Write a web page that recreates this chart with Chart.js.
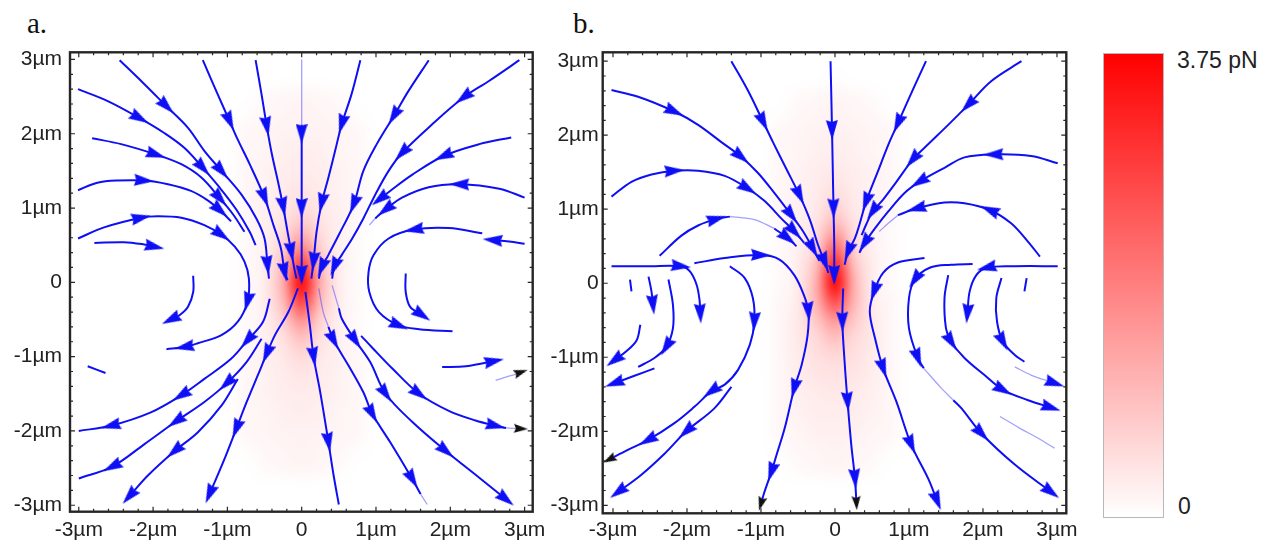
<!DOCTYPE html>
<html>
<head>
<meta charset="utf-8">
<script src="https://cdn.jsdelivr.net/npm/chart.js@4.4.1/dist/chart.umd.min.js"></script>
<style>
  html, body { margin: 0; padding: 0; background: #fff; }
  body { width: 1274px; height: 543px; position: relative; overflow: hidden; }
  .panel { position: absolute; top: 0; height: 543px; }
  .title { position: absolute; top: 9px; font: 29px/29px "Liberation Serif", "Times New Roman", serif; color: #111; }
  #bar { position: absolute; left: 1103px; top: 53px; width: 59px; height: 463px; border: 1px solid #b8b8b8;
         background: linear-gradient(to bottom, #ff0000, #ffffff); }
  .barlabel { position: absolute; font: 23px/23px "Liberation Sans", Arial, sans-serif; color: #222; }
</style>
</head>
<body>
<div class="title" style="left:27px">a.</div>
<div class="title" style="left:573px">b.</div>
<div class="panel" style="left:0;width:560px"><canvas id="chartA"></canvas></div>
<div class="panel" style="left:540px;width:560px"><canvas id="chartB"></canvas></div>
<div id="bar"></div>
<div class="barlabel" style="left:1177px;top:49px">3.75 pN</div>
<div class="barlabel" style="left:1178px;top:495px">0</div>
<script>
// axis ticks (µm)
const tickValues = [-3, -2, -1, 0, 1, 2, 3];

// force magnitude grid, % of 3.75 pN, rows = heatY (top to bottom), cols = heatX
const heatX = [-1, -0.75, -0.5, -0.25, 0, 0.25, 0.5, 0.75, 1];
const heatY = [3, 2.75, 2.5, 2.25, 2, 1.75, 1.5, 1.25, 1, 0.75, 0.5, 0.25, 0,
               -0.25, -0.5, -0.75, -1, -1.25, -1.5, -1.75, -2, -2.25, -2.5, -2.75, -3];
const heatA = [
  [0,0,0,0,0,0,0,0,0],
  [0,0,0,0,0,0,0,0,0],
  [0,0,2,3,4,3,2,0,0],
  [0,1,3,4,5,4,3,1,0],
  [0,3,4,5,5,5,4,3,0],
  [0,3,4,6,7,6,4,3,0],
  [0,3,5,7,8,7,5,3,0],
  [0,3,5,8,10,8,5,3,0],
  [0,3,6,9,14,9,6,3,0],
  [0,2,6,12,24,12,6,2,0],
  [0,2,6,17,44,17,6,2,0],
  [0,2,7,26,76,26,7,2,0],
  [0,2,7,32,100,32,7,2,0],
  [0,2,7,27,78,27,7,2,0],
  [0,2,6,18,46,18,6,2,0],
  [0,2,6,12,25,12,6,2,0],
  [0,3,6,9,15,9,6,3,0],
  [0,3,5,8,10,8,5,3,0],
  [0,3,5,7,8,7,5,3,0],
  [0,3,4,6,7,6,4,3,0],
  [0,3,4,5,5,5,4,3,0],
  [0,1,3,4,5,4,3,1,0],
  [0,0,2,3,4,3,2,0,0],
  [0,0,0,0,0,0,0,0,0],
  [0,0,0,0,0,0,0,0,0]
];
const heatB = [
  [0,0,0,0,0,0,0,0,0],
  [0,0,0,0,1,0,0,0,0],
  [0,0,2,3,4,3,2,0,0],
  [0,1,3,4,5,4,3,1,0],
  [0,3,4,5,6,5,4,3,0],
  [0,3,4,6,7,6,4,3,0],
  [0,3,5,7,9,7,5,3,0],
  [0,3,5,8,12,8,5,3,0],
  [0,3,6,9,18,9,6,3,0],
  [0,2,6,12,32,12,6,2,0],
  [0,2,6,17,58,17,6,2,0],
  [0,2,7,26,86,26,7,2,0],
  [0,2,7,32,100,32,7,2,0],
  [0,3,8,30,72,30,8,3,0],
  [0,3,9,22,42,22,9,3,0],
  [0,3,9,15,25,15,9,3,0],
  [0,3,8,12,15,12,8,3,0],
  [0,3,7,10,11,10,7,3,0],
  [0,3,6,8,9,8,6,3,0],
  [0,3,5,7,7,7,5,3,0],
  [0,3,4,6,6,6,4,3,0],
  [0,1,3,4,5,4,3,1,0],
  [0,0,2,3,4,3,2,0,0],
  [0,0,0,0,0,0,0,0,0],
  [0,0,0,0,0,0,0,0,0]
];

// streamlines [x, y, mark]: mark 1 = arrowhead, 2 = black arrowhead
const linesA = [
  [[0,2.12],[0,2.0,1],[0,1.5],[0,1.0,1],[0,0.45],[0,0.1,1],[0,0.02]],
  [[-1.33,2.99],[-1.13,2.53],[-0.97,2.17,1],[-0.86,1.92],[-0.70,1.59],[-0.50,1.14,1],[-0.38,0.77],[-0.28,0.46],[-0.23,0.14,1],[-0.19,0.03]],
  [[-0.62,2.99],[-0.54,2.53],[-0.47,2.10,1],[-0.40,1.72],[-0.32,1.36],[-0.25,1.02,1],[-0.19,0.68],[-0.14,0.41,1],[-0.09,0.14],[-0.07,0.05]],
  [[0.79,2.99],[0.67,2.53],[0.54,2.13,1],[0.45,1.77],[0.36,1.41],[0.27,1.07,1],[0.20,0.68],[0.16,0.28,1],[0.13,0.05]],
  [[1.71,2.99],[1.44,2.58],[1.24,2.24,1],[1.01,1.86],[0.83,1.50],[0.70,1.05,1],[0.50,0.64],[0.36,0.37],[0.27,0.20,1],[0.23,0.05]],
  [[2.93,2.99],[2.52,2.71],[2.18,2.49,1],[1.76,2.13],[1.35,1.74,1],[1.17,1.50],[0.99,1.18],[0.83,0.86],[0.68,0.59],[0.54,0.37],[0.44,0.21,1],[0.41,0.05]],
  [[2.82,1.95],[2.39,1.86],[1.91,1.70,1],[1.49,1.45],[1.19,1.23],[1.05,1.12,1]],
  [[3.0,1.14],[2.66,1.26],[2.12,1.32,1],[1.71,1.28],[1.35,1.14],[1.13,0.98,1],[0.99,0.86]],
  [[-2.45,2.99],[-2.14,2.69],[-1.82,2.37,1],[-1.53,2.08],[-1.31,1.77],[-1.08,1.50,1],[-0.81,1.18],[-0.61,0.86],[-0.50,0.59],[-0.46,0.23,1],[-0.44,0.05]],
  [[-3.01,2.60],[-2.61,2.44],[-2.18,2.21,1],[-1.85,2.01],[-1.58,1.81],[-1.33,1.54,1],[-1.10,1.27],[-0.88,0.98],[-0.70,0.68],[-0.62,0.50]],
  [[-2.82,1.94],[-2.43,1.86],[-1.96,1.72,1],[-1.62,1.59],[-1.35,1.41],[-1.10,1.13,1],[-0.92,0.91],[-0.77,0.68]],
  [[-3.01,1.24],[-2.75,1.34],[-2.48,1.37],[-2.12,1.37,1],[-1.80,1.32],[-1.49,1.23],[-1.26,1.10],[-1.10,0.97,1],[-0.95,0.82]],
  [[-3.01,0.59],[-2.66,0.74],[-2.16,0.87,1],[-1.94,0.89],[-1.62,0.87],[-1.31,0.77],[-1.08,0.64,1],[-0.90,0.48],[-0.77,0.28],[-0.71,0.05],[-0.73,-0.26,1],[-0.86,-0.53],[-1.08,-0.71],[-1.40,-0.82],[-1.58,-0.87,1],[-1.82,-0.90]],
  [[-2.79,0.53],[-2.39,0.54],[-2.12,0.51],[-1.98,0.48,1]],
  [[-1.46,0.09],[-1.46,-0.13],[-1.53,-0.33],[-1.64,-0.44],[-1.76,-0.50,1]],
  [[-2.88,-1.13],[-2.64,-1.22]],
  [[2.43,0.66],[1.98,0.73],[1.51,0.71,1],[1.17,0.59],[0.97,0.37],[0.90,0.14],[0.91,-0.13],[1.04,-0.40],[1.31,-0.58,1],[1.58,-0.63],[2.03,-0.66]],
  [[3.0,0.52],[2.79,0.55],[2.57,0.57,1]],
  [[1.40,0.12],[1.40,-0.13],[1.46,-0.33],[1.62,-0.44,1]],
  [[1.89,-1.14],[2.21,-1.13],[2.59,-1.06,1],[2.66,-1.04]],
  [[0.05,-0.13],[0.11,-0.58],[0.16,-1.0,1],[0.25,-1.48],[0.36,-2.15,1],[0.43,-2.60],[0.50,-2.99]],
  [[-0.05,-0.08],[-0.18,-0.40],[-0.36,-0.71],[-0.47,-0.96,1],[-0.59,-1.25],[-0.74,-1.61],[-0.88,-1.97,1],[-1.04,-2.38],[-1.24,-2.85,1]],
  [[0.36,-0.60],[0.43,-0.78,1],[0.63,-1.12],[0.83,-1.48],[0.95,-1.77,1],[1.19,-2.15],[1.49,-2.65,1],[1.60,-2.85]],
  [[0.50,-0.35],[0.54,-0.49],[0.72,-0.78,1],[0.92,-1.07],[1.13,-1.50,1],[1.49,-1.88],[1.94,-2.27,1],[2.39,-2.63],[2.75,-2.92,1]],
  [[0.80,-0.72],[0.95,-0.88],[1.22,-1.16],[1.58,-1.50,1],[1.98,-1.73],[2.34,-1.86],[2.61,-1.93,1],[2.75,-1.96]],
  [[-0.43,-0.22],[-0.52,-0.53],[-0.73,-0.78,1],[-0.95,-1.03],[-1.31,-1.30],[-1.62,-1.52,1],[-2.03,-1.75],[-2.57,-1.93,1],[-3.0,-2.0]],
  [[-0.54,-0.76],[-0.74,-1.07],[-1.01,-1.36,1],[-1.31,-1.61],[-1.69,-1.87,1],[-2.12,-2.18],[-2.55,-2.48,1],[-3.0,-2.64]],
  [[-0.86,-1.30],[-1.08,-1.66],[-1.40,-2.02],[-1.71,-2.27,1],[-2.07,-2.60],[-2.32,-2.88,1]]
];
const faintA = [
  [[0,3.0],[0,2.12]],
  [[0.99,0.86],[0.91,0.77]],
  [[2.61,-1.32],[2.80,-1.26],[2.95,-1.21,2]],
  [[0.23,-0.08],[0.29,-0.40],[0.36,-0.60]],
  [[1.60,-2.85],[1.69,-2.99]],
  [[0.41,-0.04],[0.50,-0.35]],
  [[2.75,-1.96],[2.95,-1.97,2]]
];

const linesB = [
  [[-0.06,3.0],[-0.05,2.55],[-0.04,2.07,1],[-0.03,1.55],[-0.02,1.01,1],[-0.01,0.52],[-0.01,0.11,1],[-0.01,0.02]],
  [[-1.40,3.0],[-1.18,2.61],[-0.97,2.18,1],[-0.84,1.91],[-0.66,1.55],[-0.48,1.19,1],[-0.34,0.86],[-0.23,0.52],[-0.14,0.29,1],[-0.09,0.14]],
  [[-3.02,2.61],[-2.66,2.52],[-2.17,2.32,1],[-1.85,2.14],[-1.54,1.91],[-1.27,1.71,1],[-1.04,1.49],[-0.82,1.22],[-0.59,0.92,1],[-0.43,0.70],[-0.30,0.47,1],[-0.21,0.30]],
  [[-3.02,1.17],[-2.75,1.37],[-2.48,1.47],[-2.17,1.52,1],[-1.85,1.52],[-1.49,1.45],[-1.18,1.28,1],[-0.95,1.11],[-0.73,0.88],[-0.55,0.70,1],[-0.42,0.55]],
  [[-2.37,0.37],[-2.08,0.64],[-1.85,0.78],[-1.60,0.87,1],[-1.42,0.90]],
  [[-0.82,0.74],[-0.64,0.61,1],[-0.52,0.50]],
  [[-3.02,0.23],[-2.53,0.23],[-2.08,0.23,1],[-1.96,0.16],[-1.87,-0.02],[-1.83,-0.23],[-1.82,-0.41,1]],
  [[-1.90,0.27],[-1.49,0.34],[-1.0,0.38,1],[-0.75,0.32],[-0.55,0.11],[-0.42,-0.16],[-0.36,-0.38,1],[-0.37,-0.70],[-0.45,-1.10],[-0.55,-1.42,1],[-0.68,-1.96],[-0.79,-2.32],[-0.86,-2.55,1],[-0.96,-2.84],[-1.0,-2.98,2]],
  [[-1.42,0.23],[-1.22,0.07],[-1.11,-0.20],[-1.09,-0.52,1],[-1.15,-0.83],[-1.31,-1.17],[-1.49,-1.37],[-1.67,-1.46,1],[-1.90,-1.67],[-2.17,-1.89],[-2.53,-2.12,1],[-2.80,-2.25],[-3.05,-2.38,2]],
  [[-1.40,-1.40],[-1.63,-1.69],[-2.01,-2.0,1],[-2.30,-2.30],[-2.62,-2.59],[-2.93,-2.82,1]],
  [[-2.77,0.05],[-2.75,-0.11]],
  [[-2.52,0.09],[-2.48,-0.11],[-2.46,-0.29,1]],
  [[-2.25,0.05],[-2.19,-0.29],[-2.19,-0.61],[-2.28,-0.86,1],[-2.44,-1.01],[-2.66,-1.13]],
  [[-2.63,-0.56],[-2.68,-0.77],[-2.82,-0.92],[-2.98,-1.04,1]],
  [[-2.44,-1.15],[-2.71,-1.25],[-2.98,-1.35,1]],
  [[1.23,3.0],[1.05,2.61],[0.85,2.16,1],[0.72,1.87],[0.58,1.51],[0.42,1.10,1],[0.33,0.79],[0.27,0.61],[0.18,0.43,1],[0.13,0.25]],
  [[2.52,3.0],[2.11,2.73],[1.80,2.41,1],[1.53,2.14],[1.23,1.85],[1.05,1.67,1],[0.83,1.37],[0.65,1.13],[0.51,0.97,1],[0.42,0.79],[0.36,0.65]],
  [[3.01,1.62],[2.65,1.72],[2.14,1.74,1],[1.75,1.70],[1.48,1.56],[1.14,1.37,1],[0.94,1.22],[0.72,0.97],[0.54,0.74],[0.40,0.54,1],[0.33,0.41]],
  [[2.77,0.36],[2.61,0.56],[2.38,0.81],[2.09,0.99,1],[1.75,1.08],[1.48,1.09],[1.10,1.01,1],[0.85,0.92]],
  [[3.01,0.23],[2.43,0.23],[2.05,0.21,1],[1.91,0.11],[1.82,-0.11],[1.79,-0.41,1]],
  [[1.86,0.26],[1.57,0.25],[1.28,0.21],[1.08,0.05,1],[1.0,-0.20],[1.0,-0.61],[1.12,-1.01,1],[1.20,-1.15]],
  [[1.60,-1.58],[1.71,-1.69],[1.98,-2.03,1],[2.43,-2.45],[2.92,-2.82,1]],
  [[1.21,0.34],[0.85,0.28],[0.65,0.14],[0.53,-0.11,1],[0.47,-0.38],[0.54,-0.74],[0.65,-1.15,1],[0.83,-1.60],[1.03,-2.18,1],[1.26,-2.64],[1.38,-2.94,1]],
  [[0.11,-0.07],[0.10,-0.52,1],[0.13,-1.06],[0.17,-1.60,1],[0.22,-2.18],[0.27,-2.64,1],[0.29,-2.97,2]],
  [[1.53,0.11],[1.48,-0.20],[1.50,-0.61],[1.57,-0.79,1],[1.75,-1.01],[2.02,-1.24],[2.27,-1.44,1],[2.61,-1.58],[2.92,-1.68,1]],
  [[2.25,0.07],[2.18,-0.20],[2.19,-0.52],[2.27,-0.79,1],[2.43,-0.97],[2.56,-1.06]],
  [[2.59,0.07],[2.56,-0.11]]
];
const faintB = [
  [[-1.42,0.90],[-1.09,0.86],[-0.82,0.74]],
  [[0.85,0.92],[0.72,0.81],[0.60,0.70]],
  [[1.20,-1.15],[1.44,-1.42],[1.60,-1.58]],
  [[2.43,-1.13],[2.65,-1.24],[2.97,-1.35,1]],
  [[2.23,-1.80],[2.50,-1.96],[2.74,-2.09],[2.97,-2.23]]
];

const lineBlue = 'rgb(15,15,245)';
const faintBlue = 'rgba(70,70,255,0.5)';
const labelFont = { family: 'Liberation Sans', size: 21 };

function makeArrow(color, w, h) {
  const c = document.createElement('canvas');
  c.width = w; c.height = h;
  const g = c.getContext('2d');
  g.fillStyle = color;
  g.beginPath();
  g.moveTo(w / 2, 0);
  g.lineTo(w, h);
  g.lineTo(w / 2, h - 2);
  g.lineTo(0, h);
  g.closePath();
  g.fill();
  return c;
}
const arrowBlue = makeArrow(lineBlue, 12, 20);
const arrowBlack = makeArrow('#111', 9, 14);

// heading of the line at point i, degrees clockwise from "up"
function heading(pts, i) {
  const a = pts[Math.max(i - 1, 0)], b = pts[Math.min(i + 1, pts.length - 1)];
  return Math.atan2(b[0] - a[0], b[1] - a[1]) * 180 / Math.PI;
}

function lineDataset(pts, faint) {
  return {
    data: pts.map(p => ({ x: p[0], y: p[1] })),
    showLine: true,
    borderColor: faint ? faintBlue : lineBlue,
    borderWidth: faint ? 1.3 : 2,
    tension: 0.35,
    pointRadius: pts.map(p => p[2] ? 6 : 0),
    pointStyle: pts.map(p => p[2] === 2 ? arrowBlack : arrowBlue),
    pointRotation: pts.map((p, i) => heading(pts, i))
  };
}

// red force map under the streamlines
function heatPlugin(grid) {
  return {
    id: 'heat',
    beforeDatasetsDraw(chart) {
      const { ctx, chartArea: a, scales: { x, y } } = chart;
      const off = document.createElement('canvas');
      off.width = heatX.length; off.height = heatY.length;
      const octx = off.getContext('2d');
      const img = octx.createImageData(off.width, off.height);
      grid.forEach((row, j) => row.forEach((v, i) => {
        const k = (j * off.width + i) * 4;
        img.data[k] = 255; img.data[k + 3] = Math.round(v / 100 * 255);
      }));
      octx.putImageData(img, 0, 0);
      const half = (heatX[1] - heatX[0]) / 2;
      const left = x.getPixelForValue(heatX[0] - half);
      const right = x.getPixelForValue(heatX[heatX.length - 1] + half);
      const top = y.getPixelForValue(heatY[0] + half);
      const bottom = y.getPixelForValue(heatY[heatY.length - 1] - half);
      ctx.save();
      ctx.beginPath(); ctx.rect(a.left, a.top, a.width, a.height); ctx.clip();
      ctx.imageSmoothingEnabled = true;
      ctx.imageSmoothingQuality = 'high';
      ctx.drawImage(off, left, top, right - left, bottom - top);
      ctx.restore();
    }
  };
}

// box frame with small inward ticks every 0.2 µm
const framePlugin = {
  id: 'frame',
  afterDatasetsDraw(chart) {
    const { ctx, chartArea: a, scales: { x, y } } = chart;
    ctx.save();
    ctx.strokeStyle = '#262626';
    ctx.lineWidth = 1.2;
    ctx.beginPath();
    for (let k = -15; k <= 15; k++) {
      const v = k / 5, len = k % 5 === 0 ? 5 : 3;
      const px = x.getPixelForValue(v), py = y.getPixelForValue(v);
      ctx.moveTo(px, a.bottom); ctx.lineTo(px, a.bottom - len);
      ctx.moveTo(px, a.top); ctx.lineTo(px, a.top + len);
      ctx.moveTo(a.left, py); ctx.lineTo(a.left + len, py);
      ctx.moveTo(a.right, py); ctx.lineTo(a.right - len, py);
    }
    ctx.stroke();
    ctx.lineWidth = 2.4;
    ctx.strokeRect(a.left, a.top, a.width, a.height);
    ctx.restore();
  }
};

function makeChart(id, lines, faint, grid, box) {
  const datasets = faint.map(l => lineDataset(l, true)).concat(lines.map(l => lineDataset(l, false)));
  const tickOpts = (pad) => ({
    stepSize: 1, includeBounds: false, padding: pad, font: labelFont, color: '#222',
    callback: v => tickValues.includes(v) ? (v === 0 ? '0' : v + 'µm') : ''
  });
  return new Chart(document.getElementById(id), {
    type: 'scatter',
    data: { datasets },
    options: {
      animation: false, responsive: true, maintainAspectRatio: false, events: [],
      layout: { padding: { top: box.top, right: box.right, left: 0, bottom: 0 } },
      plugins: { legend: { display: false }, tooltip: { enabled: false } },
      scales: {
        x: {
          type: 'linear', min: box.xMin, max: box.xMax,
          grid: { display: false, drawTicks: false }, border: { display: false },
          ticks: tickOpts(box.xPad),
          afterFit: s => { s.height = box.xAxis; }
        },
        y: {
          type: 'linear', min: box.yMin, max: box.yMax,
          grid: { display: false, drawTicks: false }, border: { display: false },
          ticks: tickOpts(box.yPad),
          afterFit: s => { s.width = box.yAxis; }
        }
      }
    },
    plugins: [heatPlugin(grid), framePlugin]
  });
}

makeChart('chartA', linesA, faintA, heatA, {
  top: 52.3, right: 27.3, yAxis: 70, xAxis: 31.3,
  xMin: -3.118, xMax: 3.109, yMin: -3.087, yMax: 3.096, xPad: 6, yPad: 8
});
makeChart('chartB', linesB, faintB, heatB, {
  top: 52.3, right: 33.7, yAxis: 62.7, xAxis: 29.7,
  xMin: -3.139, xMax: 3.126, yMin: -3.108, yMax: 3.12, xPad: 4, yPad: 4
});
</script>
</body>
</html>
